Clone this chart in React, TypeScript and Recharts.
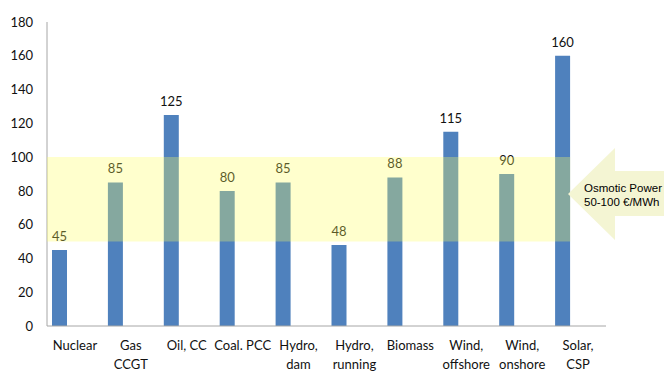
import { BarChart, Bar, XAxis, YAxis, ReferenceArea, LabelList } from 'recharts'

const categories = [
  'Nuclear',
  'Gas\nCCGT',
  'Oil, CC',
  'Coal. PCC',
  'Hydro,\ndam',
  'Hydro,\nrunning',
  'Biomass',
  'Wind,\noffshore',
  'Wind,\nonshore',
  'Solar,\nCSP',
]
const costs = [45, 85, 125, 80, 85, 48, 88, 115, 90, 160]
const yTicks = [0, 20, 40, 60, 80, 100, 120, 140, 160, 180]
const osmoticRange = [50, 100]

const data = categories.map((name, i) => ({ name, cost: costs[i], spacer: null, pos: i }))

const font = 'Lato, "Open Sans", sans-serif'

function CategoryTick({ x, y, payload }: any) {
  const lines = String(payload.value).split('\n')
  return (
    <text x={x} y={y} textAnchor="middle" fill="#111" fontSize={13} fontFamily={font}>
      {lines.map((l, i) => (
        <tspan key={i} x={x} dy={i === 0 ? 16 : 19}>
          {l}
        </tspan>
      ))}
    </text>
  )
}

export default function App() {
  return (
    <div style={{ position: 'absolute', left: 0, top: 0, width: 664, height: 371, background: '#fff' }}>
      <BarChart
        width={664}
        height={371}
        data={data}
        margin={{ top: 22, right: 58, bottom: 0, left: 0 }}
        barSize={15}
        barGap={16}
      >
        <XAxis
          dataKey="name"
          interval={0}
          tickLine={false}
          axisLine={{ stroke: '#a6a6a6' }}
          height={45}
          tick={<CategoryTick />}
        />
        <XAxis xAxisId="band" type="number" dataKey="pos" domain={[0, 10]} hide />
        <YAxis
          domain={[0, 180]}
          ticks={yTicks}
          interval={0}
          width={47}
          tickLine={false}
          tickMargin={8}
          axisLine={{ stroke: '#a6a6a6' }}
          tick={{ fill: '#111', fontSize: 13, fontFamily: font }}
        />
        <Bar dataKey="cost" fill="#4f81bd" isAnimationActive={false}>
          <LabelList dataKey="cost" position="top" offset={9} fill="#111" fontSize={13} fontFamily={font} />
        </Bar>
        <Bar dataKey="spacer" fill="#c0504d" isAnimationActive={false} />
        <ReferenceArea
          xAxisId="band"
          x1={0}
          x2={9.36}
          y1={osmoticRange[0]}
          y2={osmoticRange[1]}
          fill="#ffff5f"
          fillOpacity={0.31}
          stroke="none"
          zIndex={2500}
        />
      </BarChart>
      <svg width={664} height={371} style={{ position: 'absolute', left: 0, top: 0, pointerEvents: 'none' }}>
        <polygon points="568,194 615,148 615,171 664,171 664,216 615,216 615,240" fill="#f4f5d3" />
        <text x={584} y={192} fontSize={11.5} fontFamily='"Liberation Sans", Arial, sans-serif' fill="#000">
          Osmotic Power
        </text>
        <text x={584} y={206} fontSize={11.5} fontFamily='"Liberation Sans", Arial, sans-serif' fill="#000">
          50-100 €/MWh
        </text>
      </svg>
    </div>
  )
}
